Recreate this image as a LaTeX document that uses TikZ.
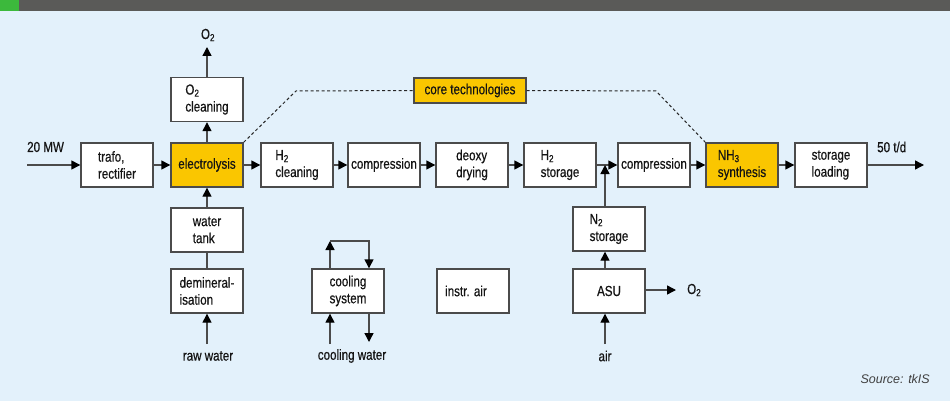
\documentclass[tikz,border=0pt]{standalone}
\usepackage{fontspec}
\setmainfont{Liberation Sans}[FakeStretch=0.8,FakeBold=0.5]
\newfontfamily\srcfont{Liberation Sans}
\usetikzlibrary{arrows.meta}
\definecolor{bgblue}{RGB}{227,241,251}
\definecolor{hdrgray}{RGB}{90,90,88}
\definecolor{hdrgreen}{RGB}{60,185,60}
\definecolor{coreyel}{RGB}{250,198,0}
\definecolor{linegray}{RGB}{75,75,75}
\definecolor{txt}{RGB}{20,20,20}
\tikzset{
  box/.style={draw=linegray, line width=1.4pt, fill=white, minimum width=72pt, minimum height=44pt,
    inner sep=0pt, align=left, text=txt, font=\fontsize{14.5}{17}\selectfont},
  corebox/.style={box, fill=coreyel},
  lbl/.style={text=txt, font=\fontsize{14.5}{17}\selectfont, inner sep=0pt},
  flow/.style={draw=linegray, line width=1.4pt, -{Triangle[length=9pt,width=9pt,fill=black,color=black]}},
  plain/.style={draw=linegray, line width=1.4pt},
  dashline/.style={draw=black!85, line width=1pt, dash pattern=on 3pt off 2.5pt},
}
\newcommand{\sub}[1]{\textsubscript{#1}}
\begin{document}
\begin{tikzpicture}[x=1pt,y=-1pt]
\useasboundingbox (0,0) rectangle (950,401);
\fill[bgblue] (0,0) rectangle (950,401);
\fill[hdrgray] (0,0) rectangle (950,11);
\fill[hdrgreen] (0,0) rectangle (19,11);

% main row
\node[box] (trafo) at (117,165) {trafo,\\rectifier};
\node[corebox] (elec) at (207,165) {electrolysis};
\node[box] (o2c) at (207,99.5) {O\sub{2}\\cleaning};
\node[box] (h2c) at (297,165) {H\sub{2}\\cleaning};
\node[box] (comp1) at (384,165) {compression};
\node[box] (deoxy) at (472,165) {deoxy\\drying};
\node[box] (h2s) at (560,165) {H\sub{2}\\storage};
\node[box] (comp2) at (654,165) {compression};
\node[corebox] (nh3) at (742,165) {NH\sub{3}\\synthesis};
\node[box] (stl) at (831,165) {storage\\loading};

% lower boxes
\node[box] (wt) at (207,230) {water\\tank};
\node[box] (demin) at (207,291) {demineral-\\isation};
\node[box] (cool) at (348,291) {cooling\\system};
\node[box] (instr) at (473,291) {instr. air\hspace*{14pt}};
\node[box] (n2s) at (609,229) {N\sub{2}\\storage};
\node[box] (asu) at (609,291) {ASU};

% core technologies
\node[corebox, minimum width=112pt, minimum height=25pt, align=center] (core) at (470,90.5) {core technologies};

% labels
\node[lbl, anchor=west] (mw) at (27,147) {20 MW};
\node[lbl, anchor=west] (td) at (877,147) {50 t/d};
\node[lbl] (o2top) at (208,35) {O\sub{2}};
\node[lbl, anchor=west] (o2asu) at (687,290) {O\sub{2}};
\node[lbl] (raw) at (208,356) {raw water};
\node[lbl] (cw) at (352,356) {cooling water};
\node[lbl] (air) at (605,356) {air};
\node[anchor=east, inner sep=0pt, text=black!75, font=\srcfont\itshape\fontsize{12.5}{14}\selectfont] (src) at (930,379) {Source: tkIS};

% coordinates
\coordinate (inL) at (27,165);
\coordinate (outR) at (924,165);
\coordinate (junc) at (605,165);
\coordinate (o2tip) at (207,47);
\coordinate (rawtop) at (207,344);
\coordinate (airtop) at (605,344);
\coordinate (cl) at (330,241);
\coordinate (cr) at (369,241);
\coordinate (cwin) at (330,344);
\coordinate (cwout) at (369,342);
\coordinate (asuO) at (676,290);
\coordinate (dl) at (296,91);
\coordinate (dr) at (656,91);

% main flow
\draw[flow] (inL) -- (trafo.west);
\draw[flow] (trafo) -- (elec);
\draw[flow] (elec) -- (h2c);
\draw[flow] (h2c) -- (comp1);
\draw[flow] (comp1) -- (deoxy);
\draw[flow] (deoxy) -- (h2s);
\draw[flow] (h2s) -- (comp2);
\draw[flow] (comp2) -- (nh3);
\draw[flow] (nh3) -- (stl);
\draw[flow] (stl.east) -- (outR);

% vertical flows
\draw[flow] (elec) -- (o2c);
\draw[flow] (o2c.north) -- (o2tip);
\draw[flow] (wt) -- (elec);
\draw[plain] (demin) -- (wt);
\draw[flow] (rawtop) -- (demin.south);
\draw[flow] (n2s.north -| junc) -- (junc);
\draw[flow] (asu.north -| junc) -- (n2s.south -| junc);
\draw[flow] (airtop) -- (asu.south -| airtop);
\draw[flow] (asu.east |- asuO) -- (asuO);

% cooling loop
\draw[flow] (cool.north -| cl) -- (cl);
\draw[flow] (cl) -- (cr) -- (cool.north -| cr);
\draw[flow] (cwin) -- (cool.south -| cwin);
\draw[flow] (cool.south -| cr) -- (cwout);

% dashed core links
\draw[dashline] (elec.north east) -- (dl) -- (core.west);
\draw[dashline] (core.east) -- (dr) -- (nh3.north west);
\end{tikzpicture}
\end{document}
